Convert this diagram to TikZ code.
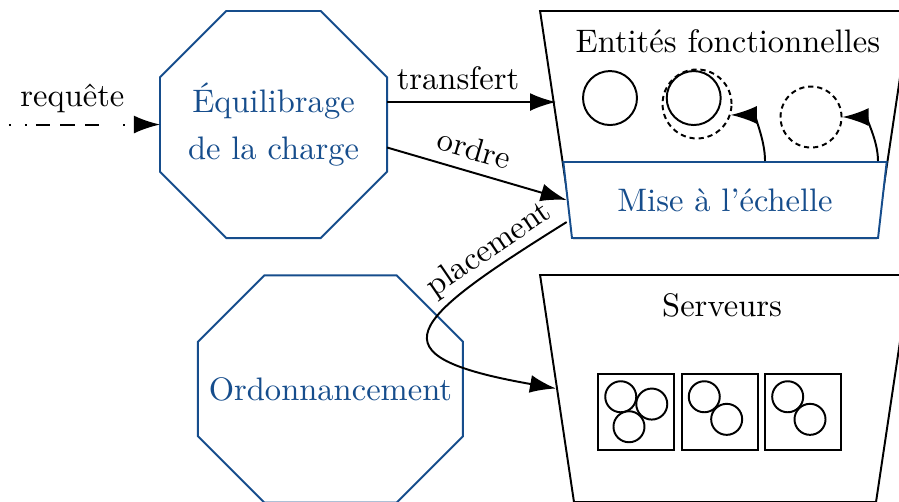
\documentclass[tikz,border=0pt]{standalone}
\usetikzlibrary{shapes.geometric, arrows.meta}

\definecolor{bleu}{RGB}{22,77,140}

% octagon drawn around a rectangular node
\newcommand{\octogone}[1]{%
    \draw[bleu] ([xshift=\chamf]#1.north west) -- ([xshift=-\chamf]#1.north east)
        -- ([yshift=-\chamf]#1.north east) -- ([yshift=\chamf]#1.south east)
        -- ([xshift=-\chamf]#1.south east) -- ([xshift=\chamf]#1.south west)
        -- ([yshift=\chamf]#1.south west) -- ([yshift=-\chamf]#1.north west) -- cycle;}

\begin{document}
\begin{tikzpicture}[semithick,
    bloc/.style={rectangle, text=bleu, align=center, inner sep=0pt, outer sep=0pt, minimum height=\blocsize},
    groupe/.style={trapezium, draw, shape border rotate=180, trapezium angle=81.5,
        inner sep=0pt, text width=3.262cm, text height=\traph, text depth=0pt},
    echelle/.style={trapezium, draw=bleu, fill=white, text=bleu, shape border rotate=180,
        trapezium angle=81.5, trapezium stretches=true, minimum width=3.521cm, minimum height=0.821cm},
    fleche/.style={-{Latex[length=8pt,width=5.5pt]}},
    entite/.style={circle, draw, inner sep=0pt, minimum size=#1},
    futur/.style={dash pattern=on 1.6pt off 1.2pt}]

    %--------------------%
    % Parameters
    %--------------------%
    \def\blocsize{2.452cm}
    \def\chamf{0.716cm}
    \def\traph{2.452cm}
    \def\vm{0.335cm}

    \useasboundingbox (0,0) rectangle (9.709,5.411);

    %--------------------%
    % Load balancing / scheduling
    %--------------------%
    \node[bloc, minimum width=\blocsize] (equil) at (2.954,4.066) {\'Equilibrage\\[2.4pt]de la charge};
    \octogone{equil}
    \node[bloc, minimum width=2.862cm] (ordo) at (3.569,1.210) {Ordonnancement};
    \octogone{ordo}
    \coordinate (req) at (0.097,4.066);

    %--------------------%
    % Functional entities
    %--------------------%
    \node[groupe] (ent) at (7.83,4.066) {};
    \node (titreEnt) at (7.862,4.968) {Entit\'es fonctionnelles};
    \node[echelle] (scal) at (7.83,3.251) {Mise \`a l'\'echelle};

    \node[entite=0.583cm] (ef1) at (6.588,4.352) {};
    \node[entite=0.583cm] (ef2) at (7.492,4.352) {};
    \node[entite=0.745cm, futur] (ef2b) at (7.528,4.288) {};
    \node[entite=0.659cm, futur] (ef3) at (8.759,4.147) {};

    %--------------------%
    % Servers
    %--------------------%
    \node[groupe] (serv) at (7.83,1.215) {};
    \node (titreServ) at (7.798,2.117) {Serveurs};

    \node[draw, inner sep=0pt, minimum size=0.821cm] (srv1) at (6.869,0.961) {};
    \node[draw, inner sep=0pt, minimum size=0.821cm] (srv2) at (7.776,0.961) {};
    \node[draw, inner sep=0pt, minimum size=0.821cm] (srv3) at (8.672,0.961) {};

    \node[entite=\vm] (vm11) at ([shift={(-0.165,0.165)}]srv1.center) {};
    \node[entite=\vm] (vm12) at ([shift={(0.170,0.086)}]srv1.center) {};
    \node[entite=\vm] (vm13) at ([shift={(-0.076,-0.159)}]srv1.center) {};
    \node[entite=\vm] (vm21) at ([shift={(-0.170,0.165)}]srv2.center) {};
    \node[entite=\vm] (vm22) at ([shift={(0.072,-0.079)}]srv2.center) {};
    \node[entite=\vm] (vm31) at ([shift={(-0.165,0.165)}]srv3.center) {};
    \node[entite=\vm] (vm32) at ([shift={(0.076,-0.079)}]srv3.center) {};

    %--------------------%
    % Connections
    %--------------------%
    \draw[fleche, dash pattern=on 0.6pt off 4.3pt on 0.6pt off 2.8pt on 4.3pt off 3.1pt on 4.6pt off 3.1pt on 4.3pt off 7.4pt on 0.6pt off 5pt]
        (req) -- node[above, pos=0.42]{requ\^ete} (equil.west);
    \draw[fleche] ([yshift=0.243cm]equil.east) -- node[above, pos=0.42]{transfert} ([yshift=0.243cm]equil.east -| ent.west);
    \draw[fleche] ([yshift=-0.248cm]equil.east) -- node[above, sloped, pos=0.45]{ordre} (scal.west);
    \draw[fleche] ([yshift=-0.238cm]scal.west) to[out=212, in=170, looseness=2.9] node[above, sloped, pos=0.16, inner sep=1pt]{placement} (serv.west);

    \draw[fleche] ([xshift=0.432cm]scal.north) to[out=90, in=0] (ef2b.-18);
    \draw[fleche] ([xshift=1.652cm]scal.north) to[out=90, in=0] (ef3.east);
\end{tikzpicture}
\end{document}
